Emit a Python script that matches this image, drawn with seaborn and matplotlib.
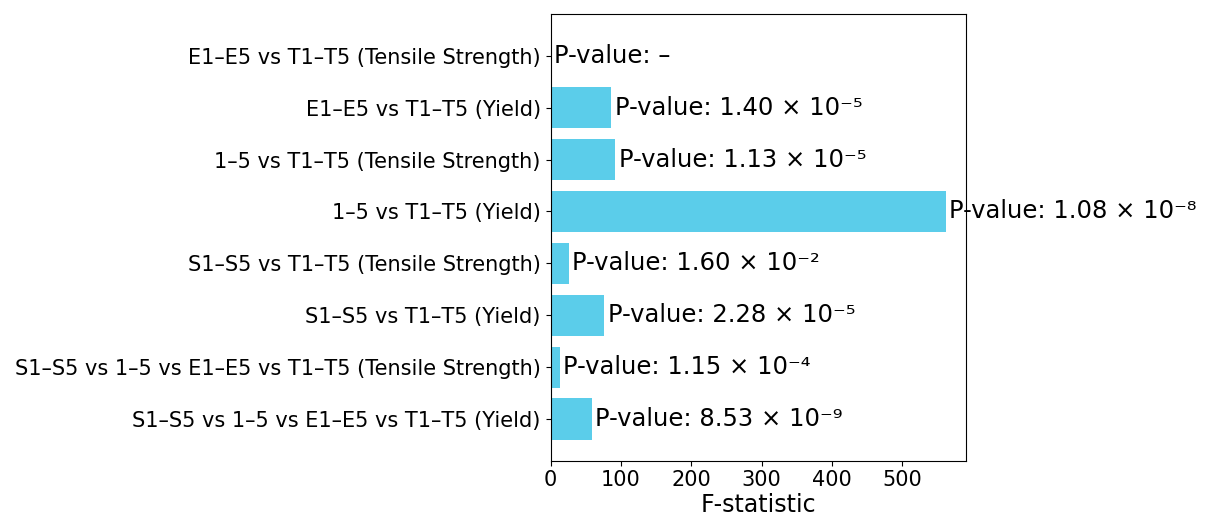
import matplotlib
matplotlib.use('Agg')
import matplotlib.pyplot as plt
import seaborn as sns
import pandas as pd

# comparisons (top to bottom)
comparisons = [
    'E1–E5 vs T1–T5 (Tensile Strength)',
    'E1–E5 vs T1–T5 (Yield)',
    '1–5 vs T1–T5 (Tensile Strength)',
    '1–5 vs T1–T5 (Yield)',
    'S1–S5 vs T1–T5 (Tensile Strength)',
    'S1–S5 vs T1–T5 (Yield)',
    'S1–S5 vs 1–5 vs E1–E5 vs T1–T5 (Tensile Strength)',
    'S1–S5 vs 1–5 vs E1–E5 vs T1–T5 (Yield)',
]
f_stats = [0, 86.3, 92, 562, 26, 76, 13.3, 58.3]
p_labels = ['–', '1.40 × 10⁻⁵', '1.13 × 10⁻⁵', '1.08 × 10⁻⁸',
            '1.60 × 10⁻²', '2.28 × 10⁻⁵', '1.15 × 10⁻⁴', '8.53 × 10⁻⁹']

df = pd.DataFrame({'comparison': comparisons, 'F': f_stats})

fig, ax = plt.subplots(figsize=(12.1, 5.23), dpi=100)
fig.subplots_adjust(left=0.455, right=0.798, top=0.973, bottom=0.119)

sns.barplot(data=df, x='F', y='comparison', orient='h', color='#5bcdea',
            saturation=1, width=0.8, ax=ax)

for i, (val, p) in enumerate(zip(f_stats, p_labels)):
    ax.text(val + 5, i, f'P-value: {p}', va='center', ha='left', fontsize=17.5)

ax.set_xlim(0, 590)
ax.set_ylim(7.8, -0.8)
ax.set_xticks([0, 100, 200, 300, 400, 500])
ax.set_ylabel('')
ax.set_xlabel('F-statistic', fontsize=17, labelpad=2)
ax.tick_params(axis='y', labelsize=15)
ax.tick_params(axis='x', labelsize=15)
for s in ax.spines.values():
    s.set_visible(True)
    s.set_color('black')

fig.savefig('out.png', dpi=100)
